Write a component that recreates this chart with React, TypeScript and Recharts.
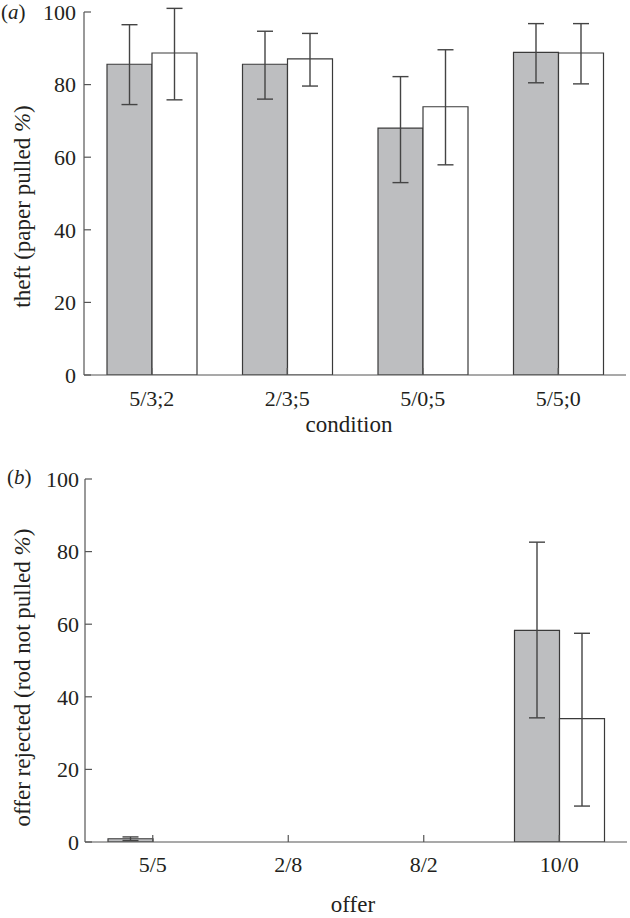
import React from 'react';
import { BarChart, Bar, XAxis, YAxis, ErrorBar, Label } from 'recharts';

// ---- data ----
const conditions = ['5/3;2', '2/3;5', '5/0;5', '5/5;0'];
const theftGrey = [85.6, 85.6, 68.0, 88.9];
const theftGreyLow = [74.5, 76.0, 53.0, 80.5];
const theftGreyHigh = [96.5, 94.7, 82.2, 96.8];
const theftWhite = [88.7, 87.1, 73.9, 88.7];
const theftWhiteLow = [75.8, 79.6, 57.9, 80.2];
const theftWhiteHigh = [101.0, 94.1, 89.6, 96.8];

const offers = ['5/5', '2/8', '8/2', '10/0'];
const rejectGrey = [0.9, 0, 0, 58.3];
const rejectGreyLow = [0.4, 0, 0, 34.2];
const rejectGreyHigh = [1.4, 0, 0, 82.6];
const rejectWhite = [0, 0, 0, 34.0];
const rejectWhiteLow = [0, 0, 0, 9.9];
const rejectWhiteHigh = [0, 0, 0, 57.5];

const yTicks = [0, 20, 40, 60, 80, 100];

// ---- styles ----
const FONT = '"Liberation Serif", "Times New Roman", serif';
const TEXT = '#231f20';
const AXIS = '#555555';
const GREY = '#bdbec0';
const EDGE = '#3a3a3a';
const ERR = '#444444';

function makeRows(cats: string[], g: number[], gl: number[], gh: number[], w: number[], wl: number[], wh: number[]) {
  return cats.map((c, i) => ({
    cat: c,
    grey: g[i],
    greyErr: [g[i] - gl[i], gh[i] - g[i]],
    white: w[i],
    whiteErr: [w[i] - wl[i], wh[i] - w[i]],
  }));
}

const dataA = makeRows(conditions, theftGrey, theftGreyLow, theftGreyHigh, theftWhite, theftWhiteLow, theftWhiteHigh);
const dataB = makeRows(offers, rejectGrey, rejectGreyLow, rejectGreyHigh, rejectWhite, rejectWhiteLow, rejectWhiteHigh);

const makeYTick = (gap: number) => (props: any) => {
  const { x, y, payload } = props;
  return (
    <g>
      <line x1={x + gap} y1={y} x2={x + gap + 7} y2={y} stroke={AXIS} strokeWidth={1.2} />
      <text x={x} y={y} dy="0.35em" textAnchor="end" fontFamily={FONT} fontSize={22} fill={TEXT}>
        {payload.value}
      </text>
    </g>
  );
};

const makeXTick = (down: number) => (props: any) => {
  const { x, y, payload } = props;
  return (
    <g>
      <line x1={x} y1={y} x2={x} y2={y - 7} stroke={AXIS} strokeWidth={1.2} />
      <text x={x} y={y + down} textAnchor="middle" fontFamily={FONT} fontSize={22} fill={TEXT}>
        {payload.value}
      </text>
    </g>
  );
};

const makeXLabel = (text: string, dx: number, down: number) => (p: any) => {
  const vb = p.viewBox || {};
  const x0 = vb.x ?? 84;
  const w = vb.width ?? 542;
  const y0 = vb.y ?? 375;
  return (
    <text x={x0 + w / 2 + dx} y={y0 + down} textAnchor="middle" fontFamily={FONT} fontSize={23} fill={TEXT}>
      {text}
    </text>
  );
};

const makeYLabel = (text: string, panel: string, panelX: number, panelY: number, shift: number) => (p: any) => {
  const vb = p.viewBox || {};
  const y0 = vb.y ?? 12;
  const h = vb.height ?? 363;
  const cy = y0 + h / 2 + shift;
  return (
    <g>
      <text
        x={30}
        y={cy}
        transform={`rotate(-90, 30, ${cy})`}
        textAnchor="middle"
        fontFamily={FONT}
        fontSize={23}
        fill={TEXT}
      >
        {text}
        <tspan fontStyle="italic">%</tspan>)
      </text>
      <text x={panelX} y={panelY} fontFamily={FONT} fontSize={21} fill={TEXT}>
        (<tspan fontStyle="italic">{panel}</tspan>)
      </text>
    </g>
  );
};

function Panel(props: {
  data: any[];
  top: number;
  height: number;
  marginTop: number;
  xAxisHeight: number;
  yAxisWidth: number;
  right: number;
  tickGap: number;
  tickDown: number;
  xTitle: string;
  xTitleDx: number;
  xTitleDown: number;
  yTitle: string;
  yShift: number;
  panel: string;
  panelX: number;
  panelY: number;
}) {
  return (
    <BarChart
      width={630}
      height={props.height}
      data={props.data}
      margin={{ top: props.marginTop, right: props.right, bottom: 0, left: 0 }}
      barGap={0}
      style={{ position: 'absolute', left: 0, top: props.top }}
    >
      <XAxis
        dataKey="cat"
        height={props.xAxisHeight}
        interval={0}
        tickLine={false}
        tickSize={0}
        tickMargin={0}
        axisLine={{ stroke: AXIS, strokeWidth: 1.2 }}
        tick={makeXTick(props.tickDown)}
      >
        <Label content={makeXLabel(props.xTitle, props.xTitleDx, props.xTitleDown)} />
      </XAxis>
      <YAxis
        type="number"
        domain={[0, 100]}
        allowDataOverflow={true}
        ticks={yTicks}
        interval={0}
        width={props.yAxisWidth}
        tickLine={false}
        tickSize={0}
        tickMargin={props.tickGap}
        axisLine={{ stroke: AXIS, strokeWidth: 1.2 }}
        tick={makeYTick(props.tickGap)}
      >
        <Label content={makeYLabel(props.yTitle, props.panel, props.panelX, props.panelY, props.yShift)} />
      </YAxis>
      <Bar dataKey="grey" fill={GREY} stroke={EDGE} strokeWidth={1.2} barSize={45} isAnimationActive={false}>
        <ErrorBar dataKey="greyErr" width={8} stroke={ERR} strokeWidth={1.4} direction="y" isAnimationActive={false} />
      </Bar>
      <Bar dataKey="white" fill="#ffffff" stroke={EDGE} strokeWidth={1.2} barSize={45} isAnimationActive={false}>
        <ErrorBar dataKey="whiteErr" width={8} stroke={ERR} strokeWidth={1.4} direction="y" isAnimationActive={false} />
      </Bar>
    </BarChart>
  );
}

export default function App() {
  return (
    <div style={{ position: 'absolute', left: 0, top: 0, width: 630, height: 918, background: '#ffffff', overflow: 'hidden' }}>
      <Panel
        data={dataA}
        top={0}
        height={460}
        marginTop={12}
        xAxisHeight={85}
        yAxisWidth={84}
        right={4}
        tickGap={8}
        tickDown={31}
        xTitle="condition"
        xTitleDx={-6}
        xTitleDown={57}
        yTitle="theft (paper pulled "
        yShift={13}
        panel="a"
        panelX={1}
        panelY={19}
      />
      <Panel
        data={dataB}
        top={460}
        height={458}
        marginTop={19}
        xAxisHeight={76}
        yAxisWidth={85}
        right={3}
        tickGap={6}
        tickDown={30}
        xTitle="offer"
        xTitleDx={-3}
        xTitleDown={70}
        yTitle="offer rejected (rod not pulled "
        yShift={17}
        panel="b"
        panelX={7}
        panelY={24}
      />
    </div>
  );
}
